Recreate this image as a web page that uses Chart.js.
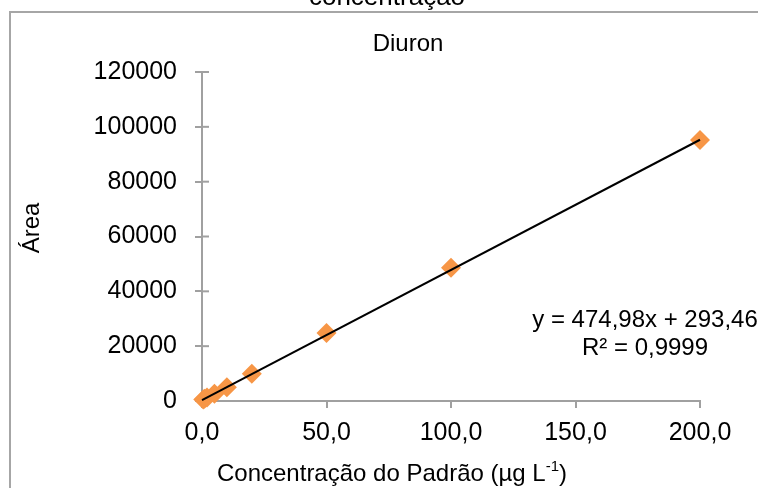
<!DOCTYPE html>
<html lang="pt">
<head>
<meta charset="utf-8">
<title>Diuron - curva analítica</title>
<script src="https://cdn.jsdelivr.net/npm/chart.js@4.4.1/dist/chart.umd.min.js"></script>
<style>
    html, body { margin: 0; padding: 0; background: #fff; overflow: hidden; }
    #moldura {
        position: absolute; left: 9px; top: 11px; width: 800px; height: 500px;
        border-left: 2px solid #a6a6a6; border-top: 2px solid #a6a6a6;
    }
    #caixa { position: absolute; left: 0; top: 0; width: 758px; height: 488px; }
</style>
</head>
<body>
<div id="moldura"></div>
<div id="caixa"><canvas id="curvaDiuron"></canvas></div>
<script>
// Padrões de Diuron: concentração (µg L-1) e área do pico
const concentracoes = [0.5, 1, 2, 5, 10, 20, 50, 100, 200];
const areas = [560, 800, 1250, 2650, 5000, 9950, 24800, 48600, 95200];

// Regressão linear informada no gráfico
const inclinacao = 474.98;
const intercepto = 293.46;
const r2 = 0.9999;

// Marcas dos eixos
const ticksX = [0, 50, 100, 150, 200];
const ticksY = [0, 20000, 40000, 60000, 80000, 100000, 120000];

const fonte = "'Liberation Sans', Arial, sans-serif";
const corEixo = '#a0a0a0';

function virgula(v, casas) {
    return v.toFixed(casas).replace('.', ',');
}

const pontos = concentracoes.map((c, i) => ({ x: c, y: areas[i] }));
const xMax = ticksX[ticksX.length - 1];
const retaTendencia = [
    { x: 0, y: intercepto },
    { x: xMax, y: inclinacao * xMax + intercepto }
];

// Marcas do eixo Y cruzando para dentro da área do gráfico
const marcasInternas = {
    id: 'marcasInternas',
    beforeDatasetsDraw(chart) {
        const ctx = chart.ctx;
        const y = chart.scales.y;
        const esq = chart.chartArea.left;
        ctx.save();
        ctx.strokeStyle = corEixo;
        ctx.lineWidth = 2;
        ticksY.forEach(v => {
            const py = y.getPixelForValue(v);
            ctx.beginPath();
            ctx.moveTo(esq, py);
            ctx.lineTo(esq + 7, py);
            ctx.stroke();
        });
        ctx.restore();
    }
};

// Títulos e equação desenhados por cima do gráfico
const textos = {
    id: 'textos',
    afterDraw(chart) {
        const ctx = chart.ctx;
        const area = chart.chartArea;
        ctx.save();
        ctx.fillStyle = '#000';
        ctx.textAlign = 'center';
        ctx.textBaseline = 'alphabetic';

        ctx.font = '26px ' + fonte;
        ctx.fillText('concentração', 387, 5);

        ctx.font = '24px ' + fonte;
        ctx.fillText('Diuron', 408, 51);

        // equação da reta e R²
        const cx = area.right - 55;
        ctx.fillText('y = ' + virgula(inclinacao, 2) + 'x + ' + virgula(intercepto, 2), cx, 327);
        ctx.fillText('R² = ' + virgula(r2, 4), cx, 355);

        // título do eixo X com expoente
        const partes = ['Concentração do Padrão (µg L', '-1', ')'];
        ctx.font = '24px ' + fonte;
        const w0 = ctx.measureText(partes[0]).width;
        const w2 = ctx.measureText(partes[2]).width;
        ctx.font = '15px ' + fonte;
        const w1 = ctx.measureText(partes[1]).width;
        let x = 392 - (w0 + w1 + w2) / 2;
        ctx.textAlign = 'left';
        ctx.font = '24px ' + fonte;
        ctx.fillText(partes[0], x, 481);
        x += w0;
        ctx.font = '15px ' + fonte;
        ctx.fillText(partes[1], x, 471);
        x += w1;
        ctx.font = '24px ' + fonte;
        ctx.fillText(partes[2], x, 481);

        // título do eixo Y
        ctx.translate(32, 228);
        ctx.rotate(-Math.PI / 2);
        ctx.textAlign = 'center';
        ctx.textBaseline = 'middle';
        ctx.fillText('Área', 0, 0);
        ctx.restore();
    }
};

new Chart(document.getElementById('curvaDiuron'), {
    type: 'scatter',
    data: {
        datasets: [
            {
                type: 'line',
                data: retaTendencia,
                borderColor: '#000',
                borderWidth: 2,
                pointRadius: 0,
                fill: false,
                clip: false
            },
            {
                data: pontos,
                pointStyle: 'rectRot',
                pointRadius: 10,
                pointHoverRadius: 10,
                backgroundColor: '#f79646',
                borderColor: '#f79646',
                borderWidth: 0,
                clip: false
            }
        ]
    },
    options: {
        responsive: true,
        maintainAspectRatio: false,
        animation: false,
        layout: { padding: { top: 72, right: 58, bottom: 0, left: 0 } },
        plugins: {
            legend: { display: false },
            tooltip: { enabled: false }
        },
        scales: {
            x: {
                type: 'linear',
                min: ticksX[0],
                max: xMax,
                afterBuildTicks: s => { s.ticks = ticksX.map(v => ({ value: v })); },
                afterFit: s => { s.height = 87; },
                border: { color: corEixo, width: 2 },
                grid: { drawOnChartArea: false, tickLength: 7, color: corEixo, lineWidth: 2 },
                ticks: {
                    padding: 10,
                    color: '#000',
                    font: { family: fonte, size: 25 },
                    callback: v => virgula(v, 1)
                }
            },
            y: {
                min: ticksY[0],
                max: ticksY[ticksY.length - 1],
                afterBuildTicks: s => { s.ticks = ticksY.map(v => ({ value: v })); },
                afterFit: s => { s.width = 202; },
                border: { color: corEixo, width: 2 },
                grid: { drawOnChartArea: false, tickLength: 7, color: corEixo, lineWidth: 2 },
                ticks: {
                    padding: 18,
                    color: '#000',
                    font: { family: fonte, size: 25 },
                    callback: v => String(v)
                }
            }
        }
    },
    plugins: [marcasInternas, textos]
});
</script>
</body>
</html>
